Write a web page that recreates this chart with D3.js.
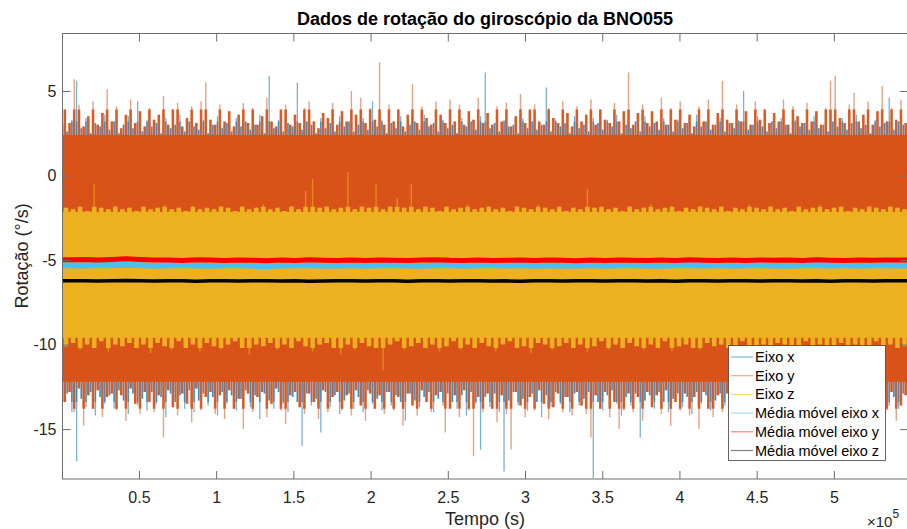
<!DOCTYPE html>
<html><head><meta charset="utf-8">
<script src="https://cdn.jsdelivr.net/npm/d3@7/dist/d3.min.js"></script>
<style>
body{margin:0;background:#fff}
svg{display:block}
text{font-family:"Liberation Sans",Arial,Helvetica,sans-serif}
</style>
</head><body>
<svg id="c" width="907" height="529"></svg>
<script>
// ---- Data (tempo in units of 1e5 s, rotação in °/s) ----
const tempoMin = 0.005;
const tempoMax = 5.48;
const xTicks = [0.5, 1, 1.5, 2, 2.5, 3, 3.5, 4, 4.5, 5];
const yTicks = [5, 0, -5, -10, -15];
const legendLabels = ["Eixo x", "Eixo y", "Eixo z", "Média móvel eixo x", "Média móvel eixo y", "Média móvel eixo z"];

// envelope (max / min per time bin)
const eixoX_max = [3.0,2.6,3.3,5.6,2.8,3.4,2.5,3.1,2.9,3.6, 2.7,3.2,2.5,3.0,3.5,2.8,4.4,2.6,3.3,2.9,
 3.1,2.5,3.4,2.8,3.0,3.6,2.6,3.2,2.9,2.7, 3.3,2.5,3.0,3.5,2.8,3.1,2.6,3.4,2.9,3.2,
 2.7,3.0,3.6,2.5,5.9,2.8,3.3,2.6,3.1,2.9, 5.5,2.7,3.2,3.0,2.5,3.4,2.8,3.1,2.6,3.5,
 2.9,3.2,2.6,3.0,3.4,2.7,4.4,2.9,3.3,2.5, 3.1,2.8,3.5,2.6,3.0,3.2,2.7,3.6,2.9,3.1,
 2.6,3.3,2.8,3.0,2.5,3.4,2.9,3.2,2.7,3.5, 6.1,2.8,3.1,2.6,3.3,2.9,3.0,2.5,3.4,2.8,
 3.2,2.7,3.0,5.2,2.6,3.3,2.9,3.1,2.5,3.5, 2.8,3.0,2.6,3.4,3.1,2.7,3.3,2.9,3.6,2.5,
 3.0,2.8,3.2,2.6,3.5,2.9,3.1,2.7,3.4,3.0, 2.6,3.3,2.8,3.1,2.5,3.6,2.9,3.2,2.7,3.0,
 3.4,2.6,3.1,2.8,3.3,5.0,2.7,3.0,3.5,2.9, 2.6,3.2,2.8,3.4,3.0,2.5,3.3,2.9,3.1,2.7,
 3.5,2.8,3.0,2.6,3.2,2.9,3.4,2.7,3.1,3.6, 2.8,3.0,2.5,3.3,2.9,3.1,4.6,2.7,3.2,3.0];
const eixoX_min = [-13.4,-12.9,-14.0,-16.9,-13.2,-13.7,-12.8,-14.2,-13.1,-13.5, -13.0,-13.8,-12.7,-13.3,-14.1,-12.9,-13.6,-13.2,-13.9,-12.8,
 -13.5,-13.1,-14.3,-12.9,-13.4,-13.0,-13.8,-12.7,-14.0,-13.3, -12.9,-13.6,-13.1,-14.2,-12.8,-13.5,-13.0,-13.9,-13.2,-12.7,
 -13.7,-13.0,-14.4,-12.9,-13.3,-13.8,-12.8,-13.5,-14.0,-13.1, -13.4,-16.0,-12.9,-13.6,-13.2,-15.2,-12.8,-13.7,-13.0,-14.1,
 -13.3,-12.9,-13.8,-13.1,-14.0,-12.7,-13.5,-13.2,-13.9,-12.8, -13.6,-13.0,-13.4,-14.5,-12.9,-13.3,-13.7,-13.1,-12.8,-14.0,
 -13.2,-13.6,-12.9,-13.4,-13.8,-13.0,-14.2,-12.8,-13.5,-16.2, -13.1,-13.7,-12.9,-14.0,-17.5,-13.3,-12.8,-13.6,-13.2,-13.9,
 -12.9,-13.4,-14.3,-13.0,-13.7,-12.8,-13.5,-13.1,-14.0,-12.9, -13.6,-13.2,-12.8,-17.9,-13.4,-13.9,-13.0,-12.7,-13.5,-14.2,
 -13.1,-13.6,-12.9,-15.5,-13.3,-13.0,-13.8,-12.8,-13.4,-14.0, -13.2,-12.9,-13.7,-13.1,-14.1,-12.8,-13.5,-13.0,-13.9,-13.3,
 -12.9,-13.6,-14.2,-13.0,-13.4,-12.8,-13.7,-13.2,-14.0,-13.1, -13.5,-12.9,-13.8,-13.3,-12.7,-14.3,-13.0,-13.6,-13.1,-13.9,
 -12.8,-13.4,-13.0,-14.1,-13.2,-13.7,-12.9,-13.5,-14.0,-13.1, -13.3,-12.8,-13.9,-13.2,-14.4,-13.0,-13.6,-13.1,-13.8,-12.9];

const eixoY_max = [3.9,3.1,5.7,4.2,2.9,3.5,4.4,3.0,3.7,5.1, 3.2,4.1,2.8,3.6,4.5,3.1,3.8,2.9,4.0,3.3,
 3.6,4.7,3.0,3.9,4.3,2.9,3.4,4.1,3.1,4.4, 5.5,3.3,3.0,4.2,3.2,3.8,2.9,3.6,4.3,3.1,
 4.0,3.0,3.5,4.6,3.2,2.9,3.9,4.2,3.0,3.6, 3.1,4.0,4.4,3.2,2.8,3.7,3.4,4.3,3.0,3.8,
 3.2,5.0,3.6,4.6,3.1,4.0,3.3,6.7,3.0,4.2, 3.2,3.9,2.9,3.6,5.4,3.1,4.1,3.4,3.0,4.4,
 3.6,3.1,4.5,3.2,4.2,3.0,3.8,3.3,4.6,3.1, 3.7,3.0,4.1,3.2,4.3,2.9,3.5,4.8,3.1,3.9,
 4.2,3.2,3.0,4.0,3.4,3.1,4.4,3.7,2.9,4.1, 3.2,3.6,4.5,3.0,3.9,3.3,3.1,4.3,3.2,3.8,
 6.1,3.0,3.7,4.2,3.1,3.8,3.2,4.6,3.0,4.0, 3.3,4.4,3.1,3.6,2.9,4.1,3.2,4.5,3.0,3.7,
 5.6,3.3,3.1,4.2,3.2,3.8,3.0,4.4,3.3,3.9, 3.1,3.7,3.2,4.5,3.0,4.1,3.5,3.1,4.3,3.2,
 3.8,3.0,4.0,5.6,5.9,3.4,3.1,4.2,4.9,3.2, 3.6,4.4,3.0,3.8,5.3,3.2,4.0,3.3,4.5,3.1];
const eixoY_min = [-13.4,-12.8,-14.0,-12.6,-14.8,-13.0,-13.8,-12.7,-14.3,-13.1, -12.9,-13.9,-13.0,-14.5,-12.6,-13.5,-14.1,-12.8,-13.4,-14.0,
 -13.0,-15.5,-12.7,-13.7,-14.2,-12.9,-13.5,-14.6,-12.6,-13.9, -13.1,-12.8,-14.1,-13.0,-14.4,-12.7,-13.8,-13.2,-15.0,-12.9,
 -14.0,-13.1,-12.8,-14.3,-13.5,-12.6,-13.9,-14.7,-13.0,-12.8, -13.7,-14.1,-12.9,-13.4,-14.4,-12.7,-14.0,-13.1,-12.8,-13.9,
 -13.0,-14.2,-12.7,-13.6,-14.5,-12.9,-13.8,-13.0,-14.1,-12.8, -13.9,-13.1,-14.8,-12.9,-13.6,-14.2,-12.7,-13.4,-14.0,-13.0,
 -12.8,-15.2,-13.8,-13.0,-14.3,-12.7,-13.9,-16.6,-13.1,-14.0, -12.9,-13.8,-14.6,-13.0,-14.1,-16.2,-12.8,-13.6,-14.3,-13.1,
 -13.9,-12.7,-13.5,-14.4,-13.7,-12.9,-14.0,-13.1,-14.2,-12.8, -13.6,-14.1,-15.5,-13.0,-13.8,-12.8,-14.3,-13.4,-15.0,-13.9,
 -12.9,-14.0,-13.1,-14.5,-12.8,-13.7,-13.0,-14.1,-12.7,-14.8, -13.4,-13.9,-12.9,-14.2,-13.1,-15.0,-12.8,-13.8,-14.3,-13.0,
 -14.0,-12.9,-13.6,-14.4,-13.1,-12.7,-13.9,-14.2,-13.0,-13.8, -15.5,-12.8,-14.0,-13.4,-14.6,-12.9,-13.8,-13.0,-14.1,-13.1,
 -12.8,-13.9,-14.3,-13.0,-13.6,-14.4,-12.7,-14.0,-13.4,-14.8, -13.1,-13.8,-12.9,-14.2,-13.4,-13.9,-12.8,-14.5,-13.6,-13.0];

const eixoZ_max = [-1.9,-2.0,-1.8,-2.1,-0.5,-1.9,-2.0,-1.8,-2.0,-1.9, -2.1,-1.8,-2.0,-1.9,-1.7,-2.0,-1.9,-2.1,-1.8,-2.0,
 -1.9,-2.0,-1.8,-1.9,-2.1,-1.8,-2.0,-1.9,-1.7,-2.0, -1.9,-2.1,-1.8,-2.0,-0.9,-0.2,-1.9,-1.8,-2.0,-1.9,
 0.2,-2.0,-1.8,-1.9,-0.5,-2.0,-1.8,-1.3,-1.9,-0.5, -2.0,-1.8,-1.9,-2.1,-1.8,-2.0,-1.9,-1.7,-2.0,-1.9,
 -1.8,-2.0,-1.9,-2.1,-1.8,-1.9,-2.0,-1.7,-1.9,-2.0, -1.8,-2.1,-1.9,-2.0,-0.8,-1.9,-1.8,-2.0,-1.9,-2.1,
 -1.8,-2.0,-1.9,-1.7,-2.0,-1.9,-1.8,-2.1,-1.9,-2.0, -1.8,-1.9,-2.0,-1.8,-2.1,-1.9,-2.0,-1.7,-1.9,-2.0,
 -1.8,-2.0,-1.9,-2.1,-1.8,-2.0,-1.9,-1.7,-2.0,-1.9, -1.8,-2.1,-1.9,-2.0,-1.8,-1.9,-2.0,-1.8,-1.9,-2.0];
const eixoZ_min = [-10.1,-9.9,-10.3,-10.0,-10.2,-9.8,-10.4,-10.0,-10.1,-9.9, -10.2,-10.0,-10.5,-9.9,-10.1,-10.3,-9.8,-10.2,-10.0,-10.4,
 -9.9,-10.1,-10.3,-10.0,-9.8,-10.2,-10.6,-10.0,-10.1,-9.9, -10.3,-10.0,-10.2,-9.8,-10.1,-10.4,-10.0,-9.9,-10.2,-10.6,
 -10.0,-10.3,-9.9,-10.1,-10.2,-11.5,-10.0,-9.8,-10.3,-10.1, -9.9,-10.2,-10.0,-10.4,-10.1,-9.8,-10.3,-10.0,-10.2,-9.9,
 -10.1,-10.4,-10.0,-9.8,-10.2,-10.1,-10.5,-9.9,-10.0,-10.3, -10.1,-9.9,-10.2,-10.0,-10.4,-10.1,-9.8,-10.3,-10.0,-10.2,
 -9.9,-10.1,-10.3,-10.0,-10.2,-9.8,-10.4,-10.1,-10.0,-10.2, -10.3,-9.9,-10.1,-10.0,-10.2,-10.5,-9.8,-10.1,-10.3,-10.0,
 -10.2,-9.9,-10.0,-10.4,-10.1,-9.8,-10.3,-10.0,-10.2,-10.1, -9.9,-10.3,-10.0,-10.2,-10.1,-9.8,-10.4,-10.0,-10.2,-10.1];

// solid part and dense-fringe extent of each raw signal
const nucleoY = [-12.2, 2.4];
const franjaY = [-13.8, 3.9];
const franjaX = [-13.4, 3.2];
const nucleoZ = [-9.6, -2.15];
const franjaZ = [-10.2, -1.85];

// moving averages
const mediaX = [-5.30,-5.32,-5.29,-5.31,-5.28,-5.30,-5.33,-5.31,-5.29,-5.32, -5.34,-5.31,-5.30,-5.33,-5.35,-5.32,-5.30,-5.31,-5.34,-5.32,
 -5.30,-5.33,-5.31,-5.29,-5.32,-5.34,-5.31,-5.30,-5.33,-5.31, -5.29,-5.32,-5.30,-5.33,-5.31,-5.34,-5.32,-5.30,-5.33,-5.31,
 -5.30,-5.32,-5.34,-5.31,-5.29,-5.32,-5.30,-5.33,-5.31,-5.30, -5.32,-5.34,-5.31,-5.29,-5.32,-5.30,-5.33,-5.31,-5.30,-5.32];
const mediaY = [-4.98,-4.97,-5.00,-4.96,-4.93,-4.97,-5.00,-4.99,-5.02,-4.98, -5.00,-5.03,-4.99,-5.01,-5.04,-5.00,-5.02,-4.98,-5.01,-5.03,
 -5.00,-5.02,-4.99,-5.01,-5.03,-5.00,-4.98,-5.01,-5.02,-5.00, -5.03,-5.01,-4.99,-5.02,-5.00,-5.01,-5.04,-5.00,-5.02,-4.99,
 -5.01,-5.03,-5.00,-5.02,-4.98,-5.01,-5.03,-5.00,-5.02,-4.99, -5.01,-5.00,-5.02,-4.98,-5.01,-5.03,-5.00,-5.01,-4.99,-5.00];
const mediaZ = [-6.23,-6.22,-6.24,-6.23,-6.21,-6.23,-6.24,-6.22,-6.23,-6.25, -6.23,-6.22,-6.24,-6.23,-6.22,-6.24,-6.23,-6.25,-6.24,-6.22,
 -6.23,-6.24,-6.22,-6.23,-6.25,-6.23,-6.22,-6.24,-6.23,-6.22, -6.24,-6.23,-6.25,-6.22,-6.23,-6.24,-6.22,-6.23,-6.24,-6.23,
 -6.22,-6.24,-6.23,-6.25,-6.22,-6.23,-6.24,-6.22,-6.23,-6.24, -6.23,-6.22,-6.24,-6.23,-6.25,-6.22,-6.23,-6.24,-6.23,-6.22];

const cores = ["#0072BD", "#D95319", "#EDB120", "#4DBEEE", "#FF0000", "#000000"];

// ---- Layout ----
const M = {left: 62.5, right: 908, top: 33.5, bottom: 479};
const svg = d3.select("#c");
const x = d3.scaleLinear().domain([tempoMin, tempoMax]).range([M.left, M.right]);
const y = d3.scaleLinear().domain([-17.95, 8.4]).range([M.bottom, M.top]);

svg.append("defs").append("clipPath").attr("id", "clip").append("rect")
  .attr("x", M.left).attr("y", M.top).attr("width", M.right - M.left).attr("height", M.bottom - M.top);
const plot = svg.append("g").attr("clip-path", "url(#clip)");

function tempos(n, off) {
  const step = (tempoMax - tempoMin) / n;
  return d3.range(n).map(i => tempoMin + (i + off) * step);
}

// thin full-extent spikes + wider dense part limited to the fringe
function spikes(maxs, mins, off, color, franja, wThin, opThin, wWide, opWide) {
  const ts = tempos(maxs.length, off);
  const g = plot.append("g");
  g.append("g").selectAll("line").data(maxs).join("line")
    .attr("x1", (d, i) => x(ts[i])).attr("x2", (d, i) => x(ts[i]))
    .attr("y1", d => y(d)).attr("y2", (d, i) => y(mins[i]))
    .attr("stroke", color).attr("stroke-width", wThin).attr("stroke-opacity", opThin);
  g.append("g").selectAll("line").data(maxs).join("line")
    .attr("x1", (d, i) => x(ts[i])).attr("x2", (d, i) => x(ts[i]))
    .attr("y1", d => y(Math.min(d, franja[1]))).attr("y2", (d, i) => y(Math.max(mins[i], franja[0])))
    .attr("stroke", color).attr("stroke-width", wWide).attr("stroke-opacity", opWide);
}
function core(band, color) {
  plot.append("rect").attr("x", M.left).attr("width", M.right - M.left)
    .attr("y", y(band[1])).attr("height", y(band[0]) - y(band[1])).attr("fill", color);
}

// Eixo x (blue)
spikes(eixoX_max, eixoX_min, 0, cores[0], franjaX, 1.3, 0.55, 1.8, 0.55);
// Eixo y (orange)
core(nucleoY, cores[1]);
spikes(eixoY_max, eixoY_min, 0.5, cores[1], franjaY, 1.4, 0.55, 2.6, 0.92);
// Eixo z (yellow)
core(nucleoZ, cores[2]);
spikes(eixoZ_max, eixoZ_min, 0.5, cores[2], franjaZ, 1.4, 0.6, 4.6, 1);

// moving averages
function mm(vals, color, w) {
  const ts = tempos(vals.length, 0.5);
  const pts = vals.map((v, i) => [ts[i], v]);
  pts.unshift([tempoMin, vals[0]]); pts.push([tempoMax, vals[vals.length - 1]]);
  plot.append("path").datum(pts)
    .attr("d", d3.line().x(d => x(d[0])).y(d => y(d[1])))
    .attr("fill", "none").attr("stroke", color).attr("stroke-width", w);
}
mm(mediaX, cores[3], 6);
mm(mediaY, cores[4], 5);
mm(mediaZ, cores[5], 3.5);

// ---- Axes ----
const axCol = "#262626";
const gx = svg.append("g").attr("transform", `translate(0,${M.bottom})`)
  .call(d3.axisBottom(x).tickValues(xTicks).tickSize(-8).tickPadding(13).tickFormat(d3.format("")));
const gxt = svg.append("g").attr("transform", `translate(0,${M.top})`)
  .call(d3.axisTop(x).tickValues(xTicks).tickSize(-8).tickFormat(""));
const gy = svg.append("g").attr("transform", `translate(${M.left},0)`)
  .call(d3.axisLeft(y).tickValues(yTicks).tickSize(-8).tickPadding(6).tickFormat(d => d < 0 ? "-" + Math.abs(d) : String(d)));
const gyr = svg.append("g").attr("transform", `translate(${M.right},0)`)
  .call(d3.axisRight(y).tickValues(yTicks).tickSize(-8).tickFormat(""));
[gx, gxt, gy, gyr].forEach(g => {
  g.select(".domain").remove();
  g.selectAll(".tick line").attr("stroke", "#6e6e6e").attr("stroke-width", 1);
  g.selectAll(".tick text").attr("fill", axCol).style("font-size", "16px")
    .style("font-family", '"Liberation Sans",Arial,sans-serif');
});
svg.append("rect").attr("x", M.left).attr("y", M.top)
  .attr("width", M.right - M.left).attr("height", M.bottom - M.top)
  .attr("fill", "none").attr("stroke", "#6e6e6e").attr("stroke-width", 1);

// title & labels
svg.append("text").attr("x", 485).attr("y", 25).attr("text-anchor", "middle")
  .style("font-size", "18px").style("font-weight", "bold").attr("fill", "#000")
  .text("Dados de rotação do giroscópio da BNO055");
svg.append("text").attr("x", 485).attr("y", 525).attr("text-anchor", "middle")
  .style("font-size", "18px").attr("fill", axCol).text("Tempo (s)");
svg.append("text").attr("transform", "translate(28,256) rotate(-90)").attr("text-anchor", "middle")
  .style("font-size", "18px").attr("fill", axCol).text("Rotação (°/s)");
const ex = svg.append("text").attr("x", 867).attr("y", 527).attr("fill", axCol).style("font-size", "15px");
ex.append("tspan").text("×10");
ex.append("tspan").attr("dy", -9).style("font-size", "12px").text("5");

// ---- Legend ----
const lg = svg.append("g");
lg.append("rect").attr("x", 728.5).attr("y", 345.5).attr("width", 157).attr("height", 115)
  .attr("fill", "#fff").attr("stroke", "#404040").attr("stroke-width", 0.8);
legendLabels.forEach((lab, i) => {
  const yy = 357 + i * 18.7;
  lg.append("line").attr("x1", 731).attr("x2", 753).attr("y1", yy).attr("y2", yy)
    .attr("stroke", cores[i]).attr("stroke-opacity", 0.5).attr("stroke-width", 1.2);
  lg.append("text").attr("x", 755).attr("y", yy).attr("dy", "0.35em")
    .style("font-size", "14.5px").attr("fill", "#000").text(lab);
});
</script>
</body></html>
